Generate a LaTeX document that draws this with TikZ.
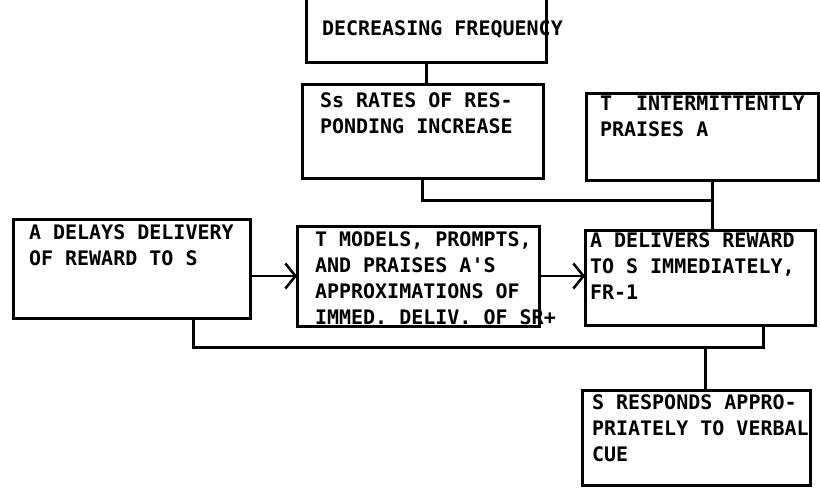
\documentclass[tikz,border=0pt]{standalone}
\usepackage{fontspec}
\setmonofont{DejaVu Sans Mono}
\usetikzlibrary{arrows.meta}
\begin{document}
\begin{tikzpicture}[x=1pt, y=-1pt,
    box/.style={draw, line width=3pt, anchor=north west, outer sep=0pt,
                font=\ttfamily\bfseries\fontsize{20}{26}\selectfont},
    link/.style={line width=3pt},
    barb/.style={line width=2.5pt, -{Straight Barb[length=10pt, width=25pt]}}]
    % Frame
    \useasboundingbox (0,0) rectangle (820,490);
    \clip (0,0) rectangle (820,490);
    % Upper Boxes
    \node[box, inner xsep=16pt, inner ysep=25pt] (dec) at (306,-4)
        {\parbox[t][16pt][t]{208pt}{DECREASING~FREQUENCY}};
    \node[box, inner xsep=18pt, inner ysep=9pt] (rates) at (302,84)
        {\parbox[t][76pt][t]{205pt}{Ss RATES OF RES-\\PONDING INCREASE}};
    \node[box, inner xsep=14pt, inner ysep=3pt] (praise) at (586,93)
        {\parbox[t][81pt][t]{204pt}{T~~INTERMITTENTLY\\PRAISES A}};
    % Middle Row
    \node[box, inner xsep=16pt, inner ysep=6pt] (delay) at (13,219)
        {\parbox[t][87pt][t]{205pt}{A~DELAYS~DELIVERY\\OF REWARD TO S}};
    \node[box, inner xsep=18pt, inner ysep=6pt] (model) at (297,226)
        {\parbox[t][88pt][t]{206pt}{T~MODELS,~PROMPTS,\\AND~PRAISES~A'S\\APPROXIMATIONS~OF\\IMMED.~DELIV.~OF~SR+}};
    \node[box, inner xsep=5pt, inner ysep=3pt] (deliver) at (585,230)
        {\parbox[t][89pt][t]{220pt}{A~DELIVERS~REWARD\\TO~S~IMMEDIATELY,\\FR-1}};
    % Lower Box
    \node[box, inner xsep=10pt, inner ysep=5pt] (respond) at (582,390)
        {\parbox[t][85pt][t]{208pt}{S~RESPONDS~APPRO-\\PRIATELY~TO~VERBAL\\CUE}};
    % Upper Links
    \draw[link] (dec.south) -- (dec.south |- rates.north);
    \coordinate (j1) at (712,200);
    \draw[link] (rates.south) |- (j1);
    \draw[link] (praise.south -| j1) -- (j1 |- deliver.north);
    % Arrows
    \draw[barb] (model.west -| delay.east) -- (model.west);
    \draw[barb] (model.east) -- (model.east -| deliver.west);
    % Lower Links
    \coordinate (j2) at (193,347);
    \coordinate (j3) at (763,347);
    \coordinate (j4) at (705,347);
    \draw[link] (delay.south -| j2) -- (j2) -- (j3) -- (deliver.south -| j3);
    \draw[link] (j4) -- (j4 |- respond.north);
\end{tikzpicture}
\end{document}
